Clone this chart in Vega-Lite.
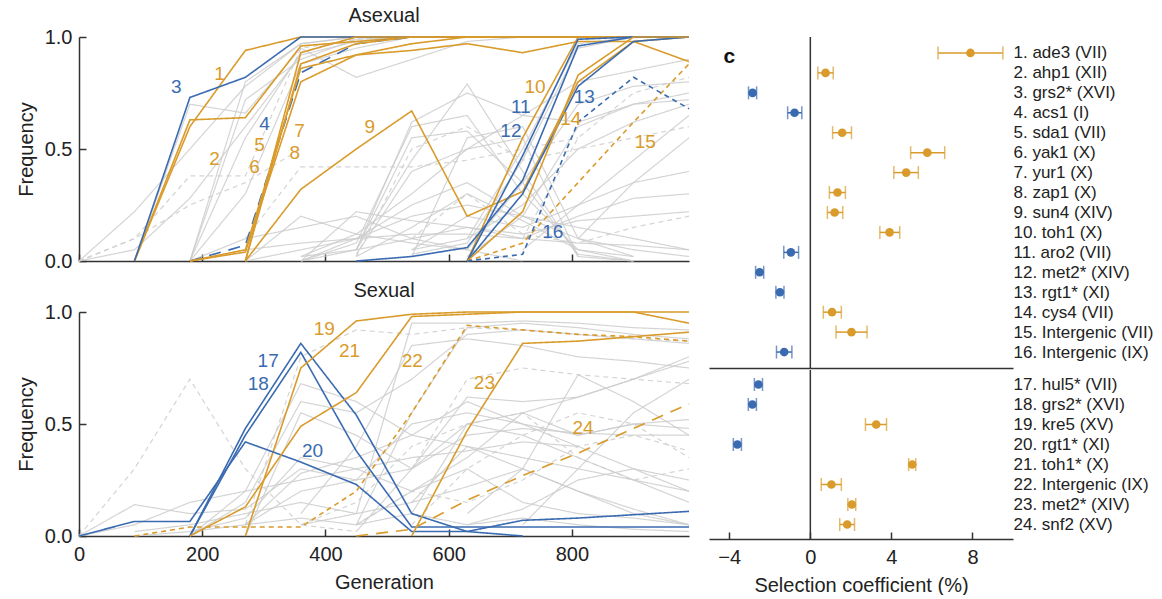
{
"$schema": "https://vega.github.io/schema/vega-lite/v6.json",
"padding": {"left": 16, "top": 6, "right": 0, "bottom": 0},
"config": {
  "font": "Liberation Sans",
  "view": {"stroke": null},
  "axis": {"domainColor": "#333", "domainWidth": 1.5, "tickColor": "#333", "tickWidth": 1.5, "tickSize": -7, "labelColor": "#222", "labelFontSize": 20, "titleFontSize": 20, "titleFontWeight": "normal", "titleColor": "#222", "grid": false, "labelFlush": false},
  "axisX": {"labelPadding": 15, "titlePadding": 8},
  "axisY": {"labelPadding": 14, "titlePadding": 8},
  "title": {"fontSize": 20, "fontWeight": "normal", "color": "#222", "offset": 1}
},
"datasets": {
  "lineages": [
    {"id":"a1","panel":"a","effect":"beneficial","site":"coding"},
    {"id":"a2","panel":"a","effect":"beneficial","site":"coding"},
    {"id":"a3","panel":"a","effect":"deleterious","site":"coding"},
    {"id":"a4","panel":"a","effect":"deleterious","site":"other"},
    {"id":"a5","panel":"a","effect":"beneficial","site":"coding"},
    {"id":"a6","panel":"a","effect":"beneficial","site":"coding"},
    {"id":"a7","panel":"a","effect":"beneficial","site":"coding"},
    {"id":"a8","panel":"a","effect":"beneficial","site":"coding"},
    {"id":"a9","panel":"a","effect":"beneficial","site":"coding"},
    {"id":"a10","panel":"a","effect":"beneficial","site":"coding"},
    {"id":"a11","panel":"a","effect":"deleterious","site":"coding"},
    {"id":"a12","panel":"a","effect":"deleterious","site":"coding"},
    {"id":"a13","panel":"a","effect":"deleterious","site":"coding"},
    {"id":"a14","panel":"a","effect":"beneficial","site":"coding"},
    {"id":"a15","panel":"a","effect":"beneficial","site":"intergenic"},
    {"id":"a16","panel":"a","effect":"deleterious","site":"intergenic"},
    {"id":"ag1","panel":"a","effect":"none","site":"coding"},
    {"id":"ag2","panel":"a","effect":"none","site":"intergenic"},
    {"id":"ag3","panel":"a","effect":"none","site":"coding"},
    {"id":"ag4","panel":"a","effect":"none","site":"coding"},
    {"id":"ag5","panel":"a","effect":"none","site":"coding"},
    {"id":"ag6","panel":"a","effect":"none","site":"coding"},
    {"id":"ag7","panel":"a","effect":"none","site":"coding"},
    {"id":"ag8","panel":"a","effect":"none","site":"coding"},
    {"id":"ag9","panel":"a","effect":"none","site":"coding"},
    {"id":"ag10","panel":"a","effect":"none","site":"coding"},
    {"id":"ag11","panel":"a","effect":"none","site":"coding"},
    {"id":"ag12","panel":"a","effect":"none","site":"coding"},
    {"id":"ag13","panel":"a","effect":"none","site":"coding"},
    {"id":"ag14","panel":"a","effect":"none","site":"coding"},
    {"id":"ag15","panel":"a","effect":"none","site":"intergenic"},
    {"id":"ag16","panel":"a","effect":"none","site":"coding"},
    {"id":"ag17","panel":"a","effect":"none","site":"coding"},
    {"id":"ag18","panel":"a","effect":"none","site":"coding"},
    {"id":"ag19","panel":"a","effect":"none","site":"coding"},
    {"id":"ag20","panel":"a","effect":"none","site":"coding"},
    {"id":"ag21","panel":"a","effect":"none","site":"intergenic"},
    {"id":"ag22","panel":"a","effect":"none","site":"intergenic"},
    {"id":"ag23","panel":"a","effect":"none","site":"coding"},
    {"id":"ag24","panel":"a","effect":"none","site":"coding"},
    {"id":"ag25","panel":"a","effect":"none","site":"intergenic"},
    {"id":"ag26","panel":"a","effect":"none","site":"coding"},
    {"id":"ag27","panel":"a","effect":"none","site":"coding"},
    {"id":"ag28","panel":"a","effect":"none","site":"coding"},
    {"id":"ag29","panel":"a","effect":"none","site":"coding"},
    {"id":"ag30","panel":"a","effect":"none","site":"coding"},
    {"id":"ag31","panel":"a","effect":"none","site":"coding"},
    {"id":"ag32","panel":"a","effect":"none","site":"coding"},
    {"id":"ag33","panel":"a","effect":"none","site":"coding"},
    {"id":"ag34","panel":"a","effect":"none","site":"intergenic"},
    {"id":"ag35","panel":"a","effect":"none","site":"coding"},
    {"id":"ag36","panel":"a","effect":"none","site":"coding"},
    {"id":"b17","panel":"b","effect":"deleterious","site":"coding"},
    {"id":"b18","panel":"b","effect":"deleterious","site":"coding"},
    {"id":"b19","panel":"b","effect":"beneficial","site":"coding"},
    {"id":"b20","panel":"b","effect":"deleterious","site":"coding"},
    {"id":"b21","panel":"b","effect":"beneficial","site":"coding"},
    {"id":"b22","panel":"b","effect":"beneficial","site":"intergenic"},
    {"id":"b23","panel":"b","effect":"beneficial","site":"coding"},
    {"id":"b24","panel":"b","effect":"beneficial","site":"other"},
    {"id":"bg1","panel":"b","effect":"none","site":"intergenic"},
    {"id":"bg2","panel":"b","effect":"none","site":"coding"},
    {"id":"bg3","panel":"b","effect":"none","site":"coding"},
    {"id":"bg4","panel":"b","effect":"none","site":"coding"},
    {"id":"bg5","panel":"b","effect":"none","site":"coding"},
    {"id":"bg6","panel":"b","effect":"none","site":"coding"},
    {"id":"bg7","panel":"b","effect":"none","site":"intergenic"},
    {"id":"bg8","panel":"b","effect":"none","site":"coding"},
    {"id":"bg9","panel":"b","effect":"none","site":"coding"},
    {"id":"bg10","panel":"b","effect":"none","site":"coding"},
    {"id":"bg11","panel":"b","effect":"none","site":"coding"},
    {"id":"bg12","panel":"b","effect":"none","site":"coding"},
    {"id":"bg13","panel":"b","effect":"none","site":"coding"},
    {"id":"bg14","panel":"b","effect":"none","site":"intergenic"},
    {"id":"bg15","panel":"b","effect":"none","site":"coding"},
    {"id":"bg16","panel":"b","effect":"none","site":"coding"},
    {"id":"bg17","panel":"b","effect":"none","site":"intergenic"},
    {"id":"bg18","panel":"b","effect":"none","site":"coding"},
    {"id":"bg19","panel":"b","effect":"none","site":"coding"},
    {"id":"bg20","panel":"b","effect":"none","site":"intergenic"},
    {"id":"bg21","panel":"b","effect":"none","site":"coding"},
    {"id":"bg22","panel":"b","effect":"none","site":"coding"},
    {"id":"bg23","panel":"b","effect":"none","site":"coding"},
    {"id":"bg24","panel":"b","effect":"none","site":"intergenic"},
    {"id":"bg25","panel":"b","effect":"none","site":"coding"},
    {"id":"bg26","panel":"b","effect":"none","site":"coding"}
  ],
  "traj": [
    {"id":"a1","gen":90,"freq":0},{"id":"a1","gen":180,"freq":0.6},{"id":"a1","gen":270,"freq":0.94},{"id":"a1","gen":360,"freq":1},{"id":"a1","gen":450,"freq":1},{"id":"a1","gen":540,"freq":1},{"id":"a1","gen":630,"freq":1},{"id":"a1","gen":720,"freq":1},{"id":"a1","gen":810,"freq":1},{"id":"a1","gen":900,"freq":1},{"id":"a1","gen":990,"freq":1},
    {"id":"a2","gen":90,"freq":0},{"id":"a2","gen":180,"freq":0.63},{"id":"a2","gen":270,"freq":0.64},{"id":"a2","gen":360,"freq":0.96},{"id":"a2","gen":450,"freq":0.98},{"id":"a2","gen":540,"freq":1},{"id":"a2","gen":630,"freq":1},{"id":"a2","gen":720,"freq":1},{"id":"a2","gen":810,"freq":1},{"id":"a2","gen":900,"freq":1},{"id":"a2","gen":990,"freq":1},
    {"id":"a3","gen":90,"freq":0},{"id":"a3","gen":180,"freq":0.73},{"id":"a3","gen":270,"freq":0.82},{"id":"a3","gen":360,"freq":1},{"id":"a3","gen":450,"freq":1},{"id":"a3","gen":540,"freq":1},{"id":"a3","gen":630,"freq":1},{"id":"a3","gen":720,"freq":1},{"id":"a3","gen":810,"freq":1},{"id":"a3","gen":900,"freq":1},{"id":"a3","gen":990,"freq":1},
    {"id":"a4","gen":180,"freq":0},{"id":"a4","gen":270,"freq":0.07},{"id":"a4","gen":360,"freq":0.84},{"id":"a4","gen":450,"freq":0.97},{"id":"a4","gen":540,"freq":1},{"id":"a4","gen":630,"freq":1},{"id":"a4","gen":720,"freq":1},{"id":"a4","gen":810,"freq":1},{"id":"a4","gen":900,"freq":1},{"id":"a4","gen":990,"freq":1},
    {"id":"a5","gen":270,"freq":0},{"id":"a5","gen":360,"freq":0.93},{"id":"a5","gen":450,"freq":1},{"id":"a5","gen":540,"freq":1},{"id":"a5","gen":630,"freq":1},{"id":"a5","gen":720,"freq":1},{"id":"a5","gen":810,"freq":1},{"id":"a5","gen":900,"freq":1},{"id":"a5","gen":990,"freq":1},
    {"id":"a6","gen":270,"freq":0},{"id":"a6","gen":360,"freq":0.88},{"id":"a6","gen":450,"freq":0.97},{"id":"a6","gen":540,"freq":1},{"id":"a6","gen":630,"freq":1},{"id":"a6","gen":720,"freq":1},{"id":"a6","gen":810,"freq":1},{"id":"a6","gen":900,"freq":1},{"id":"a6","gen":990,"freq":1},
    {"id":"a7","gen":180,"freq":0},{"id":"a7","gen":270,"freq":0.05},{"id":"a7","gen":360,"freq":0.86},{"id":"a7","gen":450,"freq":0.92},{"id":"a7","gen":540,"freq":0.97},{"id":"a7","gen":630,"freq":1},{"id":"a7","gen":720,"freq":1},{"id":"a7","gen":810,"freq":1},{"id":"a7","gen":900,"freq":1},{"id":"a7","gen":990,"freq":1},
    {"id":"a8","gen":180,"freq":0},{"id":"a8","gen":270,"freq":0.04},{"id":"a8","gen":360,"freq":0.8},{"id":"a8","gen":450,"freq":0.92},{"id":"a8","gen":540,"freq":0.94},{"id":"a8","gen":630,"freq":0.97},{"id":"a8","gen":720,"freq":0.93},{"id":"a8","gen":810,"freq":0.98},{"id":"a8","gen":900,"freq":0.98},{"id":"a8","gen":990,"freq":0.89},
    {"id":"a9","gen":270,"freq":0},{"id":"a9","gen":360,"freq":0.32},{"id":"a9","gen":450,"freq":0.5},{"id":"a9","gen":540,"freq":0.67},{"id":"a9","gen":630,"freq":0.2},{"id":"a9","gen":720,"freq":0.31},{"id":"a9","gen":810,"freq":0.8},{"id":"a9","gen":900,"freq":0.98},{"id":"a9","gen":990,"freq":1},
    {"id":"a10","gen":630,"freq":0},{"id":"a10","gen":720,"freq":0.55},{"id":"a10","gen":810,"freq":1},{"id":"a10","gen":900,"freq":1},{"id":"a10","gen":990,"freq":1},
    {"id":"a11","gen":630,"freq":0},{"id":"a11","gen":720,"freq":0.47},{"id":"a11","gen":810,"freq":0.99},{"id":"a11","gen":900,"freq":1},{"id":"a11","gen":990,"freq":1},
    {"id":"a12","gen":450,"freq":0},{"id":"a12","gen":540,"freq":0.02},{"id":"a12","gen":630,"freq":0.06},{"id":"a12","gen":720,"freq":0.36},{"id":"a12","gen":810,"freq":0.96},{"id":"a12","gen":900,"freq":1},{"id":"a12","gen":990,"freq":1},
    {"id":"a13","gen":630,"freq":0},{"id":"a13","gen":720,"freq":0.3},{"id":"a13","gen":810,"freq":0.78},{"id":"a13","gen":900,"freq":0.98},{"id":"a13","gen":990,"freq":1},
    {"id":"a14","gen":630,"freq":0},{"id":"a14","gen":720,"freq":0.22},{"id":"a14","gen":810,"freq":0.83},{"id":"a14","gen":900,"freq":1},{"id":"a14","gen":990,"freq":1},
    {"id":"a15","gen":630,"freq":0},{"id":"a15","gen":720,"freq":0.08},{"id":"a15","gen":810,"freq":0.35},{"id":"a15","gen":900,"freq":0.62},{"id":"a15","gen":990,"freq":0.88},
    {"id":"a16","gen":630,"freq":0},{"id":"a16","gen":720,"freq":0.03},{"id":"a16","gen":810,"freq":0.62},{"id":"a16","gen":900,"freq":0.82},{"id":"a16","gen":990,"freq":0.68},
    {"id":"ag1","gen":0,"freq":0},{"id":"ag1","gen":90,"freq":0.22},{"id":"ag1","gen":180,"freq":0.5},{"id":"ag1","gen":270,"freq":0.78},{"id":"ag1","gen":360,"freq":0.97},{"id":"ag1","gen":450,"freq":1},{"id":"ag1","gen":540,"freq":1},{"id":"ag1","gen":630,"freq":1},{"id":"ag1","gen":720,"freq":1},{"id":"ag1","gen":810,"freq":1},{"id":"ag1","gen":900,"freq":1},{"id":"ag1","gen":990,"freq":1},
    {"id":"ag2","gen":0,"freq":0},{"id":"ag2","gen":90,"freq":0.1},{"id":"ag2","gen":180,"freq":0.38},{"id":"ag2","gen":270,"freq":0.38},{"id":"ag2","gen":360,"freq":0.95},{"id":"ag2","gen":450,"freq":0.99},{"id":"ag2","gen":540,"freq":1},{"id":"ag2","gen":630,"freq":1},{"id":"ag2","gen":720,"freq":1},{"id":"ag2","gen":810,"freq":1},{"id":"ag2","gen":900,"freq":1},{"id":"ag2","gen":990,"freq":1},
    {"id":"ag3","gen":0,"freq":0},{"id":"ag3","gen":90,"freq":0.05},{"id":"ag3","gen":180,"freq":0.28},{"id":"ag3","gen":270,"freq":0.6},{"id":"ag3","gen":360,"freq":0.92},{"id":"ag3","gen":450,"freq":0.98},{"id":"ag3","gen":540,"freq":1},{"id":"ag3","gen":630,"freq":1},{"id":"ag3","gen":720,"freq":1},{"id":"ag3","gen":810,"freq":1},{"id":"ag3","gen":900,"freq":1},{"id":"ag3","gen":990,"freq":1},
    {"id":"ag4","gen":90,"freq":0},{"id":"ag4","gen":180,"freq":0.7},{"id":"ag4","gen":270,"freq":0.66},{"id":"ag4","gen":360,"freq":0.95},{"id":"ag4","gen":450,"freq":0.82},{"id":"ag4","gen":540,"freq":0.9},{"id":"ag4","gen":630,"freq":0.98},{"id":"ag4","gen":720,"freq":1},{"id":"ag4","gen":810,"freq":1},{"id":"ag4","gen":900,"freq":1},{"id":"ag4","gen":990,"freq":1},
    {"id":"ag5","gen":180,"freq":0},{"id":"ag5","gen":270,"freq":0.8},{"id":"ag5","gen":360,"freq":0.97},{"id":"ag5","gen":450,"freq":1},{"id":"ag5","gen":540,"freq":1},{"id":"ag5","gen":630,"freq":1},{"id":"ag5","gen":720,"freq":1},{"id":"ag5","gen":810,"freq":1},{"id":"ag5","gen":900,"freq":1},{"id":"ag5","gen":990,"freq":1},
    {"id":"ag6","gen":180,"freq":0},{"id":"ag6","gen":270,"freq":0.72},{"id":"ag6","gen":360,"freq":0.9},{"id":"ag6","gen":450,"freq":0.99},{"id":"ag6","gen":540,"freq":1},{"id":"ag6","gen":630,"freq":1},{"id":"ag6","gen":720,"freq":1},{"id":"ag6","gen":810,"freq":1},{"id":"ag6","gen":900,"freq":1},{"id":"ag6","gen":990,"freq":1},
    {"id":"ag7","gen":180,"freq":0},{"id":"ag7","gen":270,"freq":0.55},{"id":"ag7","gen":360,"freq":0.93},{"id":"ag7","gen":450,"freq":1},{"id":"ag7","gen":540,"freq":1},{"id":"ag7","gen":630,"freq":1},{"id":"ag7","gen":720,"freq":1},{"id":"ag7","gen":810,"freq":1},{"id":"ag7","gen":900,"freq":1},{"id":"ag7","gen":990,"freq":1},
    {"id":"ag8","gen":180,"freq":0},{"id":"ag8","gen":270,"freq":0.3},{"id":"ag8","gen":360,"freq":0.88},{"id":"ag8","gen":450,"freq":0.95},{"id":"ag8","gen":540,"freq":1},{"id":"ag8","gen":630,"freq":1},{"id":"ag8","gen":720,"freq":1},{"id":"ag8","gen":810,"freq":1},{"id":"ag8","gen":900,"freq":1},{"id":"ag8","gen":990,"freq":1},
    {"id":"ag9","gen":270,"freq":0},{"id":"ag9","gen":360,"freq":0.05},{"id":"ag9","gen":450,"freq":0.1},{"id":"ag9","gen":540,"freq":0.2},{"id":"ag9","gen":630,"freq":0.25},{"id":"ag9","gen":720,"freq":0.2},{"id":"ag9","gen":810,"freq":0.15},{"id":"ag9","gen":900,"freq":0.1},{"id":"ag9","gen":990,"freq":0.05},
    {"id":"ag10","gen":360,"freq":0},{"id":"ag10","gen":450,"freq":0.22},{"id":"ag10","gen":540,"freq":0.18},{"id":"ag10","gen":630,"freq":0.15},{"id":"ag10","gen":720,"freq":0.1},{"id":"ag10","gen":810,"freq":0.2},{"id":"ag10","gen":900,"freq":0.28},{"id":"ag10","gen":990,"freq":0.3},
    {"id":"ag11","gen":270,"freq":0},{"id":"ag11","gen":360,"freq":0.2},{"id":"ag11","gen":450,"freq":0.12},{"id":"ag11","gen":540,"freq":0.08},{"id":"ag11","gen":630,"freq":0.05},{"id":"ag11","gen":720,"freq":0},
    {"id":"ag12","gen":360,"freq":0},{"id":"ag12","gen":450,"freq":0.05},{"id":"ag12","gen":540,"freq":0.45},{"id":"ag12","gen":630,"freq":0.79},{"id":"ag12","gen":720,"freq":0.4},{"id":"ag12","gen":810,"freq":0.02},{"id":"ag12","gen":900,"freq":0},
    {"id":"ag13","gen":360,"freq":0},{"id":"ag13","gen":450,"freq":0.08},{"id":"ag13","gen":540,"freq":0.6},{"id":"ag13","gen":630,"freq":0.65},{"id":"ag13","gen":720,"freq":0.3},{"id":"ag13","gen":810,"freq":0.05},{"id":"ag13","gen":900,"freq":0},
    {"id":"ag14","gen":450,"freq":0.05},{"id":"ag14","gen":540,"freq":0.55},{"id":"ag14","gen":630,"freq":0.58},{"id":"ag14","gen":720,"freq":0.35},{"id":"ag14","gen":810,"freq":0.03},{"id":"ag14","gen":900,"freq":0},
    {"id":"ag15","gen":450,"freq":0.02},{"id":"ag15","gen":540,"freq":0.5},{"id":"ag15","gen":630,"freq":0.6},{"id":"ag15","gen":720,"freq":0.45},{"id":"ag15","gen":810,"freq":0.5},{"id":"ag15","gen":900,"freq":0.55},{"id":"ag15","gen":990,"freq":0.6},
    {"id":"ag16","gen":450,"freq":0.03},{"id":"ag16","gen":540,"freq":0.4},{"id":"ag16","gen":630,"freq":0.5},{"id":"ag16","gen":720,"freq":0.65},{"id":"ag16","gen":810,"freq":0.8},{"id":"ag16","gen":900,"freq":0.85},{"id":"ag16","gen":990,"freq":0.9},
    {"id":"ag17","gen":540,"freq":0.05},{"id":"ag17","gen":630,"freq":0.1},{"id":"ag17","gen":720,"freq":0.5},{"id":"ag17","gen":810,"freq":0.97},{"id":"ag17","gen":900,"freq":1},{"id":"ag17","gen":990,"freq":1},
    {"id":"ag18","gen":540,"freq":0.03},{"id":"ag18","gen":630,"freq":0.08},{"id":"ag18","gen":720,"freq":0.45},{"id":"ag18","gen":810,"freq":0.95},{"id":"ag18","gen":900,"freq":1},{"id":"ag18","gen":990,"freq":1},
    {"id":"ag19","gen":630,"freq":0.02},{"id":"ag19","gen":720,"freq":0.2},{"id":"ag19","gen":810,"freq":0.6},{"id":"ag19","gen":900,"freq":0.7},{"id":"ag19","gen":990,"freq":0.75},
    {"id":"ag20","gen":720,"freq":0.05},{"id":"ag20","gen":810,"freq":0.25},{"id":"ag20","gen":900,"freq":0.45},{"id":"ag20","gen":990,"freq":0.65},
    {"id":"ag21","gen":270,"freq":0.1},{"id":"ag21","gen":360,"freq":0.42},{"id":"ag21","gen":450,"freq":0.42},{"id":"ag21","gen":540,"freq":0.42},{"id":"ag21","gen":630,"freq":0.45},{"id":"ag21","gen":720,"freq":0.5},{"id":"ag21","gen":810,"freq":0.55},
    {"id":"ag22","gen":0,"freq":0},{"id":"ag22","gen":90,"freq":0.1},{"id":"ag22","gen":180,"freq":0.25},{"id":"ag22","gen":270,"freq":0.35},{"id":"ag22","gen":360,"freq":0.5},
    {"id":"ag23","gen":630,"freq":0.1},{"id":"ag23","gen":720,"freq":0.25},{"id":"ag23","gen":810,"freq":0.5},{"id":"ag23","gen":900,"freq":0.62},{"id":"ag23","gen":990,"freq":0.7},
    {"id":"ag24","gen":360,"freq":0},{"id":"ag24","gen":450,"freq":0.1},{"id":"ag24","gen":540,"freq":0.25},{"id":"ag24","gen":630,"freq":0.35},{"id":"ag24","gen":720,"freq":0.2},{"id":"ag24","gen":810,"freq":0.1},{"id":"ag24","gen":900,"freq":0.05},{"id":"ag24","gen":990,"freq":0.02},
    {"id":"ag25","gen":720,"freq":0.1},{"id":"ag25","gen":810,"freq":0.55},{"id":"ag25","gen":900,"freq":0.75},{"id":"ag25","gen":990,"freq":0.82},
    {"id":"ag26","gen":810,"freq":0.1},{"id":"ag26","gen":900,"freq":0.35},{"id":"ag26","gen":990,"freq":0.55},
    {"id":"ag27","gen":270,"freq":0.05},{"id":"ag27","gen":360,"freq":0.08},{"id":"ag27","gen":450,"freq":0.1},{"id":"ag27","gen":540,"freq":0.12},{"id":"ag27","gen":630,"freq":0.12},{"id":"ag27","gen":720,"freq":0.1},{"id":"ag27","gen":810,"freq":0.08},{"id":"ag27","gen":900,"freq":0.07},{"id":"ag27","gen":990,"freq":0.05},
    {"id":"ag28","gen":540,"freq":0.02},{"id":"ag28","gen":630,"freq":0.55},{"id":"ag28","gen":720,"freq":0.6},{"id":"ag28","gen":810,"freq":0.1},{"id":"ag28","gen":900,"freq":0.02},
    {"id":"ag29","gen":450,"freq":0.05},{"id":"ag29","gen":540,"freq":0.62},{"id":"ag29","gen":630,"freq":0.75},{"id":"ag29","gen":720,"freq":0.65},{"id":"ag29","gen":810,"freq":0.62},{"id":"ag29","gen":900,"freq":0.7},{"id":"ag29","gen":990,"freq":0.72},
    {"id":"ag30","gen":360,"freq":0.02},{"id":"ag30","gen":450,"freq":0.05},{"id":"ag30","gen":540,"freq":0.1},{"id":"ag30","gen":630,"freq":0.15},{"id":"ag30","gen":720,"freq":0.12},{"id":"ag30","gen":810,"freq":0.18},{"id":"ag30","gen":900,"freq":0.2},{"id":"ag30","gen":990,"freq":0.22},
    {"id":"ag31","gen":450,"freq":0.02},{"id":"ag31","gen":540,"freq":0.15},{"id":"ag31","gen":630,"freq":0.3},{"id":"ag31","gen":720,"freq":0.18},{"id":"ag31","gen":810,"freq":0.05},{"id":"ag31","gen":900,"freq":0.02},
    {"id":"ag32","gen":540,"freq":0.05},{"id":"ag32","gen":630,"freq":0.2},{"id":"ag32","gen":720,"freq":0.15},{"id":"ag32","gen":810,"freq":0.25},{"id":"ag32","gen":900,"freq":0.35},{"id":"ag32","gen":990,"freq":0.4},
    {"id":"ag33","gen":360,"freq":0.02},{"id":"ag33","gen":450,"freq":0.12},{"id":"ag33","gen":540,"freq":0.3},{"id":"ag33","gen":630,"freq":0.5},{"id":"ag33","gen":720,"freq":0.55},{"id":"ag33","gen":810,"freq":0.02},
    {"id":"ag34","gen":540,"freq":0.1},{"id":"ag34","gen":630,"freq":0.3},{"id":"ag34","gen":720,"freq":0.12},{"id":"ag34","gen":810,"freq":0.08},{"id":"ag34","gen":900,"freq":0.15},{"id":"ag34","gen":990,"freq":0.2},
    {"id":"ag35","gen":630,"freq":0.05},{"id":"ag35","gen":720,"freq":0.35},{"id":"ag35","gen":810,"freq":0.7},{"id":"ag35","gen":900,"freq":0.78},{"id":"ag35","gen":990,"freq":0.8},
    {"id":"ag36","gen":180,"freq":0},{"id":"ag36","gen":270,"freq":0.1},{"id":"ag36","gen":360,"freq":0.15},{"id":"ag36","gen":450,"freq":0.2},{"id":"ag36","gen":540,"freq":0.1},{"id":"ag36","gen":630,"freq":0.05},
    {"id":"b17","gen":180,"freq":0},{"id":"b17","gen":270,"freq":0.48},{"id":"b17","gen":360,"freq":0.86},{"id":"b17","gen":450,"freq":0.54},{"id":"b17","gen":540,"freq":0.1},{"id":"b17","gen":630,"freq":0.02},{"id":"b17","gen":720,"freq":0},
    {"id":"b18","gen":180,"freq":0},{"id":"b18","gen":270,"freq":0.45},{"id":"b18","gen":360,"freq":0.82},{"id":"b18","gen":450,"freq":0.38},{"id":"b18","gen":540,"freq":0.04},{"id":"b18","gen":630,"freq":0.04},{"id":"b18","gen":720,"freq":0.04},{"id":"b18","gen":810,"freq":0.04},{"id":"b18","gen":900,"freq":0.04},{"id":"b18","gen":990,"freq":0.04},
    {"id":"b19","gen":270,"freq":0},{"id":"b19","gen":360,"freq":0.75},{"id":"b19","gen":450,"freq":0.96},{"id":"b19","gen":540,"freq":0.99},{"id":"b19","gen":630,"freq":1},{"id":"b19","gen":720,"freq":1},{"id":"b19","gen":810,"freq":1},{"id":"b19","gen":900,"freq":1},{"id":"b19","gen":990,"freq":1},
    {"id":"b20","gen":0,"freq":0},{"id":"b20","gen":90,"freq":0.065},{"id":"b20","gen":180,"freq":0.065},{"id":"b20","gen":270,"freq":0.42},{"id":"b20","gen":360,"freq":0.33},{"id":"b20","gen":450,"freq":0.23},{"id":"b20","gen":540,"freq":0.02},{"id":"b20","gen":630,"freq":0.02},{"id":"b20","gen":720,"freq":0.07},{"id":"b20","gen":810,"freq":0.08},{"id":"b20","gen":900,"freq":0.095},{"id":"b20","gen":990,"freq":0.11},
    {"id":"b21","gen":180,"freq":0},{"id":"b21","gen":270,"freq":0.13},{"id":"b21","gen":360,"freq":0.49},{"id":"b21","gen":450,"freq":0.64},{"id":"b21","gen":540,"freq":0.98},{"id":"b21","gen":630,"freq":0.99},{"id":"b21","gen":720,"freq":1},{"id":"b21","gen":810,"freq":1},{"id":"b21","gen":900,"freq":1},{"id":"b21","gen":990,"freq":0.95},
    {"id":"b22","gen":90,"freq":0},{"id":"b22","gen":180,"freq":0.04},{"id":"b22","gen":270,"freq":0.04},{"id":"b22","gen":360,"freq":0.04},{"id":"b22","gen":450,"freq":0.2},{"id":"b22","gen":540,"freq":0.55},{"id":"b22","gen":630,"freq":0.94},{"id":"b22","gen":720,"freq":0.92},{"id":"b22","gen":810,"freq":0.9},{"id":"b22","gen":900,"freq":0.89},{"id":"b22","gen":990,"freq":0.87},
    {"id":"b23","gen":540,"freq":0},{"id":"b23","gen":630,"freq":0.47},{"id":"b23","gen":720,"freq":0.86},{"id":"b23","gen":810,"freq":0.87},{"id":"b23","gen":900,"freq":0.89},{"id":"b23","gen":990,"freq":0.91},
    {"id":"b24","gen":450,"freq":0},{"id":"b24","gen":540,"freq":0.03},{"id":"b24","gen":630,"freq":0.16},{"id":"b24","gen":720,"freq":0.27},{"id":"b24","gen":810,"freq":0.37},{"id":"b24","gen":900,"freq":0.48},{"id":"b24","gen":990,"freq":0.59},
    {"id":"bg1","gen":0,"freq":0},{"id":"bg1","gen":90,"freq":0.3},{"id":"bg1","gen":180,"freq":0.7},{"id":"bg1","gen":270,"freq":0.3},{"id":"bg1","gen":360,"freq":0.05},{"id":"bg1","gen":450,"freq":0.02},
    {"id":"bg2","gen":0,"freq":0},{"id":"bg2","gen":90,"freq":0.14},{"id":"bg2","gen":180,"freq":0.1},{"id":"bg2","gen":270,"freq":0.12},{"id":"bg2","gen":360,"freq":0.3},{"id":"bg2","gen":450,"freq":0.25},{"id":"bg2","gen":540,"freq":0.5},{"id":"bg2","gen":630,"freq":0.55},{"id":"bg2","gen":720,"freq":0.5},{"id":"bg2","gen":810,"freq":0.45},{"id":"bg2","gen":900,"freq":0.5},{"id":"bg2","gen":990,"freq":0.52},
    {"id":"bg3","gen":180,"freq":0},{"id":"bg3","gen":270,"freq":0.2},{"id":"bg3","gen":360,"freq":0.68},{"id":"bg3","gen":450,"freq":0.6},{"id":"bg3","gen":540,"freq":0.45},{"id":"bg3","gen":630,"freq":0.4},{"id":"bg3","gen":720,"freq":0.35},{"id":"bg3","gen":810,"freq":0.3},{"id":"bg3","gen":900,"freq":0.25},{"id":"bg3","gen":990,"freq":0.2},
    {"id":"bg4","gen":180,"freq":0},{"id":"bg4","gen":270,"freq":0.15},{"id":"bg4","gen":360,"freq":0.6},{"id":"bg4","gen":450,"freq":0.55},{"id":"bg4","gen":540,"freq":0.7},{"id":"bg4","gen":630,"freq":0.9},{"id":"bg4","gen":720,"freq":0.92},{"id":"bg4","gen":810,"freq":0.9},{"id":"bg4","gen":900,"freq":0.88},{"id":"bg4","gen":990,"freq":0.86},
    {"id":"bg5","gen":270,"freq":0},{"id":"bg5","gen":360,"freq":0.55},{"id":"bg5","gen":450,"freq":0.45},{"id":"bg5","gen":540,"freq":0.3},{"id":"bg5","gen":630,"freq":0.5},{"id":"bg5","gen":720,"freq":0.55},{"id":"bg5","gen":810,"freq":0.45},{"id":"bg5","gen":900,"freq":0.5},{"id":"bg5","gen":990,"freq":0.48},
    {"id":"bg6","gen":270,"freq":0.05},{"id":"bg6","gen":360,"freq":0.28},{"id":"bg6","gen":450,"freq":0.35},{"id":"bg6","gen":540,"freq":0.45},{"id":"bg6","gen":630,"freq":0.6},{"id":"bg6","gen":720,"freq":0.5},{"id":"bg6","gen":810,"freq":0.4},{"id":"bg6","gen":900,"freq":0.3},{"id":"bg6","gen":990,"freq":0.25},
    {"id":"bg7","gen":270,"freq":0.05},{"id":"bg7","gen":360,"freq":0.8},{"id":"bg7","gen":450,"freq":0.92},{"id":"bg7","gen":540,"freq":0.9},{"id":"bg7","gen":630,"freq":0.93},{"id":"bg7","gen":720,"freq":0.92},{"id":"bg7","gen":810,"freq":0.9},{"id":"bg7","gen":900,"freq":0.88},{"id":"bg7","gen":990,"freq":0.87},
    {"id":"bg8","gen":360,"freq":0.05},{"id":"bg8","gen":450,"freq":0.1},{"id":"bg8","gen":540,"freq":0.95},{"id":"bg8","gen":630,"freq":0.95},{"id":"bg8","gen":720,"freq":0.96},{"id":"bg8","gen":810,"freq":0.95},{"id":"bg8","gen":900,"freq":0.93},{"id":"bg8","gen":990,"freq":0.92},
    {"id":"bg9","gen":450,"freq":0.05},{"id":"bg9","gen":540,"freq":0.55},{"id":"bg9","gen":630,"freq":0.93},{"id":"bg9","gen":720,"freq":0.95},{"id":"bg9","gen":810,"freq":0.93},{"id":"bg9","gen":900,"freq":0.9},{"id":"bg9","gen":990,"freq":0.88},
    {"id":"bg10","gen":450,"freq":0.02},{"id":"bg10","gen":540,"freq":0.3},{"id":"bg10","gen":630,"freq":0.62},{"id":"bg10","gen":720,"freq":0.6},{"id":"bg10","gen":810,"freq":0.62},{"id":"bg10","gen":900,"freq":0.7},{"id":"bg10","gen":990,"freq":0.8},
    {"id":"bg11","gen":450,"freq":0.05},{"id":"bg11","gen":540,"freq":0.2},{"id":"bg11","gen":630,"freq":0.35},{"id":"bg11","gen":720,"freq":0.55},{"id":"bg11","gen":810,"freq":0.62},{"id":"bg11","gen":900,"freq":0.7},{"id":"bg11","gen":990,"freq":0.78},
    {"id":"bg12","gen":540,"freq":0.1},{"id":"bg12","gen":630,"freq":0.5},{"id":"bg12","gen":720,"freq":0.45},{"id":"bg12","gen":810,"freq":0.35},{"id":"bg12","gen":900,"freq":0.25},{"id":"bg12","gen":990,"freq":0.15},
    {"id":"bg13","gen":540,"freq":0.15},{"id":"bg13","gen":630,"freq":0.4},{"id":"bg13","gen":720,"freq":0.3},{"id":"bg13","gen":810,"freq":0.2},{"id":"bg13","gen":900,"freq":0.12},{"id":"bg13","gen":990,"freq":0.05},
    {"id":"bg14","gen":540,"freq":0.05},{"id":"bg14","gen":630,"freq":0.3},{"id":"bg14","gen":720,"freq":0.45},{"id":"bg14","gen":810,"freq":0.55},{"id":"bg14","gen":900,"freq":0.5},{"id":"bg14","gen":990,"freq":0.35},
    {"id":"bg15","gen":630,"freq":0.1},{"id":"bg15","gen":720,"freq":0.3},{"id":"bg15","gen":810,"freq":0.72},{"id":"bg15","gen":900,"freq":0.6},{"id":"bg15","gen":990,"freq":0.45},
    {"id":"bg16","gen":270,"freq":0.05},{"id":"bg16","gen":360,"freq":0.2},{"id":"bg16","gen":450,"freq":0.25},{"id":"bg16","gen":540,"freq":0.3},{"id":"bg16","gen":630,"freq":0.45},{"id":"bg16","gen":720,"freq":0.48},{"id":"bg16","gen":810,"freq":0.46},{"id":"bg16","gen":900,"freq":0.45},{"id":"bg16","gen":990,"freq":0.45},
    {"id":"bg17","gen":360,"freq":0.05},{"id":"bg17","gen":450,"freq":0.15},{"id":"bg17","gen":540,"freq":0.4},{"id":"bg17","gen":630,"freq":0.5},{"id":"bg17","gen":720,"freq":0.55},{"id":"bg17","gen":810,"freq":0.35},{"id":"bg17","gen":900,"freq":0.25},{"id":"bg17","gen":990,"freq":0.3},
    {"id":"bg18","gen":180,"freq":0.02},{"id":"bg18","gen":270,"freq":0.08},{"id":"bg18","gen":360,"freq":0.35},{"id":"bg18","gen":450,"freq":0.3},{"id":"bg18","gen":540,"freq":0.2},{"id":"bg18","gen":630,"freq":0.3},{"id":"bg18","gen":720,"freq":0.15},{"id":"bg18","gen":810,"freq":0.1},{"id":"bg18","gen":900,"freq":0.08},{"id":"bg18","gen":990,"freq":0.05},
    {"id":"bg19","gen":90,"freq":0.02},{"id":"bg19","gen":180,"freq":0.05},{"id":"bg19","gen":270,"freq":0.1},{"id":"bg19","gen":360,"freq":0.15},{"id":"bg19","gen":450,"freq":0.1},{"id":"bg19","gen":540,"freq":0.15},{"id":"bg19","gen":630,"freq":0.22},{"id":"bg19","gen":720,"freq":0.3},{"id":"bg19","gen":810,"freq":0.2},{"id":"bg19","gen":900,"freq":0.1},{"id":"bg19","gen":990,"freq":0.05},
    {"id":"bg20","gen":450,"freq":0.05},{"id":"bg20","gen":540,"freq":0.2},{"id":"bg20","gen":630,"freq":0.15},{"id":"bg20","gen":720,"freq":0.25},{"id":"bg20","gen":810,"freq":0.4},{"id":"bg20","gen":900,"freq":0.45},{"id":"bg20","gen":990,"freq":0.38},
    {"id":"bg21","gen":630,"freq":0.05},{"id":"bg21","gen":720,"freq":0.12},{"id":"bg21","gen":810,"freq":0.25},{"id":"bg21","gen":900,"freq":0.3},{"id":"bg21","gen":990,"freq":0.2},
    {"id":"bg22","gen":720,"freq":0.05},{"id":"bg22","gen":810,"freq":0.3},{"id":"bg22","gen":900,"freq":0.55},{"id":"bg22","gen":990,"freq":0.7},
    {"id":"bg23","gen":0,"freq":0},{"id":"bg23","gen":90,"freq":0.05},{"id":"bg23","gen":180,"freq":0.15},{"id":"bg23","gen":270,"freq":0.2},{"id":"bg23","gen":360,"freq":0.25},{"id":"bg23","gen":450,"freq":0.3},{"id":"bg23","gen":540,"freq":0.35},{"id":"bg23","gen":630,"freq":0.38},{"id":"bg23","gen":720,"freq":0.42},{"id":"bg23","gen":810,"freq":0.4},
    {"id":"bg24","gen":540,"freq":0.3},{"id":"bg24","gen":630,"freq":0.7},{"id":"bg24","gen":720,"freq":0.75},{"id":"bg24","gen":810,"freq":0.72},{"id":"bg24","gen":900,"freq":0.7},{"id":"bg24","gen":990,"freq":0.68},
    {"id":"bg25","gen":360,"freq":0.1},{"id":"bg25","gen":450,"freq":0.4},{"id":"bg25","gen":540,"freq":0.85},{"id":"bg25","gen":630,"freq":0.88},{"id":"bg25","gen":720,"freq":0.85},{"id":"bg25","gen":810,"freq":0.8},{"id":"bg25","gen":900,"freq":0.78},{"id":"bg25","gen":990,"freq":0.75},
    {"id":"bg26","gen":90,"freq":0},{"id":"bg26","gen":180,"freq":0.02},{"id":"bg26","gen":270,"freq":0.05},{"id":"bg26","gen":360,"freq":0.08},{"id":"bg26","gen":450,"freq":0.05},{"id":"bg26","gen":540,"freq":0.1},{"id":"bg26","gen":630,"freq":0.05},{"id":"bg26","gen":720,"freq":0.08},{"id":"bg26","gen":810,"freq":0.05},{"id":"bg26","gen":900,"freq":0.03},{"id":"bg26","gen":990,"freq":0.02}
  ],
  "labels": [
    {"panel":"a","text":"1","gen":228,"freq":0.835,"effect":"beneficial"},
    {"panel":"a","text":"2","gen":220,"freq":0.455,"effect":"beneficial"},
    {"panel":"a","text":"3","gen":158,"freq":0.777,"effect":"deleterious"},
    {"panel":"a","text":"4","gen":301,"freq":0.61,"effect":"deleterious"},
    {"panel":"a","text":"5","gen":293,"freq":0.52,"effect":"beneficial"},
    {"panel":"a","text":"6","gen":285,"freq":0.42,"effect":"beneficial"},
    {"panel":"a","text":"7","gen":358,"freq":0.58,"effect":"beneficial"},
    {"panel":"a","text":"8","gen":350,"freq":0.48,"effect":"beneficial"},
    {"panel":"a","text":"9","gen":472,"freq":0.6,"effect":"beneficial"},
    {"panel":"a","text":"10","gen":740,"freq":0.777,"effect":"beneficial"},
    {"panel":"a","text":"11","gen":717,"freq":0.6875,"effect":"deleterious"},
    {"panel":"a","text":"12","gen":701,"freq":0.58,"effect":"deleterious"},
    {"panel":"a","text":"13","gen":820,"freq":0.73,"effect":"deleterious"},
    {"panel":"a","text":"14","gen":798,"freq":0.634,"effect":"beneficial"},
    {"panel":"a","text":"15","gen":919,"freq":0.53,"effect":"beneficial"},
    {"panel":"a","text":"16","gen":769,"freq":0.13,"effect":"deleterious"},
    {"panel":"b","text":"17","gen":307,"freq":0.78,"effect":"deleterious"},
    {"panel":"b","text":"18","gen":291,"freq":0.68,"effect":"deleterious"},
    {"panel":"b","text":"19","gen":398,"freq":0.924,"effect":"beneficial"},
    {"panel":"b","text":"20","gen":379,"freq":0.38,"effect":"deleterious"},
    {"panel":"b","text":"21","gen":439,"freq":0.826,"effect":"beneficial"},
    {"panel":"b","text":"22","gen":541,"freq":0.78,"effect":"beneficial"},
    {"panel":"b","text":"23","gen":658,"freq":0.683,"effect":"beneficial"},
    {"panel":"b","text":"24","gen":818,"freq":0.482,"effect":"beneficial"}
  ],
  "sel": [
    {"num":1,"label":"1. ade3 (VII)","s":7.9,"lo":6.3,"hi":9.5,"effect":"beneficial","population":"asexual"},
    {"num":2,"label":"2. ahp1 (XII)","s":0.75,"lo":0.37,"hi":1.13,"effect":"beneficial","population":"asexual"},
    {"num":3,"label":"3. grs2* (XVI)","s":-2.85,"lo":-3.05,"hi":-2.65,"effect":"deleterious","population":"asexual"},
    {"num":4,"label":"4. acs1 (I)","s":-0.78,"lo":-1.12,"hi":-0.42,"effect":"deleterious","population":"asexual"},
    {"num":5,"label":"5. sda1 (VII)","s":1.57,"lo":1.1,"hi":2.03,"effect":"beneficial","population":"asexual"},
    {"num":6,"label":"6. yak1 (X)","s":5.77,"lo":4.95,"hi":6.63,"effect":"beneficial","population":"asexual"},
    {"num":7,"label":"7. yur1 (X)","s":4.73,"lo":4.12,"hi":5.33,"effect":"beneficial","population":"asexual"},
    {"num":8,"label":"8. zap1 (X)","s":1.34,"lo":0.94,"hi":1.73,"effect":"beneficial","population":"asexual"},
    {"num":9,"label":"9. sun4 (XIV)","s":1.2,"lo":0.84,"hi":1.6,"effect":"beneficial","population":"asexual"},
    {"num":10,"label":"10. toh1 (X)","s":3.91,"lo":3.43,"hi":4.41,"effect":"beneficial","population":"asexual"},
    {"num":11,"label":"11. aro2 (VII)","s":-0.96,"lo":-1.31,"hi":-0.58,"effect":"deleterious","population":"asexual"},
    {"num":12,"label":"12. met2* (XIV)","s":-2.5,"lo":-2.7,"hi":-2.3,"effect":"deleterious","population":"asexual"},
    {"num":13,"label":"13. rgt1* (XI)","s":-1.5,"lo":-1.7,"hi":-1.3,"effect":"deleterious","population":"asexual"},
    {"num":14,"label":"14. cys4 (VII)","s":1.07,"lo":0.64,"hi":1.53,"effect":"beneficial","population":"asexual"},
    {"num":15,"label":"15. Intergenic (VII)","s":2.03,"lo":1.27,"hi":2.8,"effect":"beneficial","population":"asexual"},
    {"num":16,"label":"16. Intergenic (IX)","s":-1.29,"lo":-1.67,"hi":-0.91,"effect":"deleterious","population":"asexual"},
    {"num":17,"label":"17. hul5* (VII)","s":-2.56,"lo":-2.76,"hi":-2.36,"effect":"deleterious","population":"sexual"},
    {"num":18,"label":"18. grs2* (XVI)","s":-2.86,"lo":-3.06,"hi":-2.66,"effect":"deleterious","population":"sexual"},
    {"num":19,"label":"19. kre5 (XV)","s":3.25,"lo":2.72,"hi":3.76,"effect":"beneficial","population":"sexual"},
    {"num":20,"label":"20. rgt1* (XI)","s":-3.6,"lo":-3.8,"hi":-3.4,"effect":"deleterious","population":"sexual"},
    {"num":21,"label":"21. toh1* (X)","s":5.03,"lo":4.85,"hi":5.2,"effect":"beneficial","population":"sexual"},
    {"num":22,"label":"22. Intergenic (IX)","s":1.04,"lo":0.54,"hi":1.53,"effect":"beneficial","population":"sexual"},
    {"num":23,"label":"23. met2* (XIV)","s":2.05,"lo":1.85,"hi":2.24,"effect":"beneficial","population":"sexual"},
    {"num":24,"label":"24. snf2 (XV)","s":1.82,"lo":1.45,"hi":2.18,"effect":"beneficial","population":"sexual"}
  ]
},
"spacing": 16,
"hconcat": [
  {
    "spacing": 10,
    "vconcat": [
      {
        "width": 610, "height": 224,
        "title": {"text": "Asexual"},
        "data": {"name": "traj"},
        "transform": [
          {"lookup": "id", "from": {"data": {"name": "lineages"}, "key": "id", "fields": ["panel", "effect", "site"]}},
          {"filter": "datum.panel === 'a'"}
        ],
        "encoding": {
          "x": {"field": "gen", "type": "quantitative", "scale": {"domain": [0, 990], "nice": false}, "axis": {"values": [0, 200, 400, 600, 800], "labels": false, "title": null}},
          "y": {"field": "freq", "type": "quantitative", "scale": {"domain": [0, 1], "nice": false}, "axis": {"values": [0, 0.5, 1], "format": ".1f", "title": "Frequency"}}
        },
        "layer": [
          {"transform": [{"filter": "datum.effect === 'none'"}], "mark": {"type": "line", "strokeWidth": 1.2, "opacity": 0.85},
           "encoding": {"detail": {"field": "id"},
             "color": {"field": "effect", "type": "nominal", "scale": {"domain": ["beneficial", "deleterious", "none"], "range": ["#D99B2B", "#3A6BB1", "#CDCDCD"]}, "legend": null},
             "strokeDash": {"field": "site", "type": "nominal", "scale": {"domain": ["coding", "intergenic", "other"], "range": [[1, 0], [5, 4], [12, 8]]}, "legend": null}}},
          {"transform": [{"filter": "datum.effect !== 'none'"}], "mark": {"type": "line", "strokeWidth": 1.6},
           "encoding": {"detail": {"field": "id"},
             "color": {"field": "effect", "type": "nominal", "scale": {"domain": ["beneficial", "deleterious", "none"], "range": ["#D99B2B", "#3A6BB1", "#CDCDCD"]}, "legend": null},
             "strokeDash": {"field": "site", "type": "nominal", "scale": {"domain": ["coding", "intergenic", "other"], "range": [[1, 0], [5, 4], [12, 8]]}, "legend": null}}},
          {"data": {"name": "labels"}, "transform": [{"filter": "datum.panel === 'a'"}], "mark": {"type": "text", "fontSize": 19, "baseline": "middle", "align": "center"},
           "encoding": {"text": {"field": "text"}, "color": {"field": "effect", "type": "nominal", "scale": {"domain": ["beneficial", "deleterious", "none"], "range": ["#D99B2B", "#3A6BB1", "#CDCDCD"]}, "legend": null}}},
          {"data": {"values": [{"letter": "a"}]}, "mark": {"type": "text", "fontSize": 21, "fontWeight": "bold", "color": "#111", "baseline": "middle", "align": "center"},
           "encoding": {"text": {"field": "letter"}, "x": {"datum": 28}, "y": {"datum": 0.91}}}
        ]
      },
      {
        "width": 610, "height": 224,
        "title": {"text": "Sexual"},
        "data": {"name": "traj"},
        "transform": [
          {"lookup": "id", "from": {"data": {"name": "lineages"}, "key": "id", "fields": ["panel", "effect", "site"]}},
          {"filter": "datum.panel === 'b'"}
        ],
        "encoding": {
          "x": {"field": "gen", "type": "quantitative", "scale": {"domain": [0, 990], "nice": false}, "axis": {"values": [0, 200, 400, 600, 800], "title": "Generation"}},
          "y": {"field": "freq", "type": "quantitative", "scale": {"domain": [0, 1], "nice": false}, "axis": {"values": [0, 0.5, 1], "format": ".1f", "title": "Frequency"}}
        },
        "layer": [
          {"transform": [{"filter": "datum.effect === 'none'"}], "mark": {"type": "line", "strokeWidth": 1.2, "opacity": 0.85},
           "encoding": {"detail": {"field": "id"},
             "color": {"field": "effect", "type": "nominal", "scale": {"domain": ["beneficial", "deleterious", "none"], "range": ["#D99B2B", "#3A6BB1", "#CDCDCD"]}, "legend": null},
             "strokeDash": {"field": "site", "type": "nominal", "scale": {"domain": ["coding", "intergenic", "other"], "range": [[1, 0], [5, 4], [12, 8]]}, "legend": null}}},
          {"transform": [{"filter": "datum.effect !== 'none'"}], "mark": {"type": "line", "strokeWidth": 1.6},
           "encoding": {"detail": {"field": "id"},
             "color": {"field": "effect", "type": "nominal", "scale": {"domain": ["beneficial", "deleterious", "none"], "range": ["#D99B2B", "#3A6BB1", "#CDCDCD"]}, "legend": null},
             "strokeDash": {"field": "site", "type": "nominal", "scale": {"domain": ["coding", "intergenic", "other"], "range": [[1, 0], [5, 4], [12, 8]]}, "legend": null}}},
          {"data": {"name": "labels"}, "transform": [{"filter": "datum.panel === 'b'"}], "mark": {"type": "text", "fontSize": 19, "baseline": "middle", "align": "center"},
           "encoding": {"text": {"field": "text"}, "color": {"field": "effect", "type": "nominal", "scale": {"domain": ["beneficial", "deleterious", "none"], "range": ["#D99B2B", "#3A6BB1", "#CDCDCD"]}, "legend": null}}},
          {"data": {"values": [{"letter": "b"}]}, "mark": {"type": "text", "fontSize": 21, "fontWeight": "bold", "color": "#111", "baseline": "middle", "align": "center"},
           "encoding": {"text": {"field": "letter"}, "x": {"datum": 28}, "y": {"datum": 0.91}}}
        ]
      }
    ]
  },
  {
    "spacing": 0,
    "vconcat": [
      {
        "width": 304, "height": 331,
        "title": {"text": " "},
        "data": {"name": "sel"},
        "transform": [{"filter": "datum.population === 'asexual'"}],
        "encoding": {
          "x": {"field": "s", "type": "quantitative", "scale": {"domain": [-5, 10], "nice": false, "zero": false}, "axis": {"ticks": false, "labels": false, "title": null}}
        },
        "layer": [
          {"data": {"values": [{"ref": 0}]}, "mark": {"type": "rule", "color": "#333", "strokeWidth": 1.5}, "encoding": {"x": {"field": "ref", "type": "quantitative"}}},
          {"mark": {"type": "rule", "strokeWidth": 1.5},
           "encoding": {"x": {"field": "lo", "type": "quantitative"}, "x2": {"field": "hi"},
             "y": {"field": "label", "type": "nominal", "sort": null, "scale": {"type": "point", "padding": 0.8}, "axis": {"orient": "right", "domain": false, "ticks": false, "title": null, "labelFontSize": 17, "labelPadding": 0, "labelAlign": "left", "labelColor": "#222"}},
             "color": {"field": "effect", "type": "nominal", "scale": {"domain": ["beneficial", "deleterious", "none"], "range": ["#D99B2B", "#3A6BB1", "#CDCDCD"]}, "legend": null}}},
          {"mark": {"type": "tick", "orient": "vertical", "size": 13, "thickness": 1.5},
           "encoding": {"x": {"field": "lo", "type": "quantitative"}, "y": {"field": "label", "type": "nominal", "sort": null},
             "color": {"field": "effect", "type": "nominal", "legend": null}}},
          {"mark": {"type": "tick", "orient": "vertical", "size": 13, "thickness": 1.5},
           "encoding": {"x": {"field": "hi", "type": "quantitative"}, "y": {"field": "label", "type": "nominal", "sort": null},
             "color": {"field": "effect", "type": "nominal", "legend": null}}},
          {"mark": {"type": "circle", "size": 75, "opacity": 1},
           "encoding": {"y": {"field": "label", "type": "nominal", "sort": null},
             "color": {"field": "effect", "type": "nominal", "legend": null}}},
          {"transform": [{"filter": "datum.num === 1"}], "mark": {"type": "text", "text": "c", "fontSize": 21, "fontWeight": "bold", "color": "#111", "baseline": "middle", "align": "center", "dy": 4},
           "encoding": {"x": {"datum": -4}, "y": {"field": "label", "type": "nominal", "sort": null}}}
        ]
      },
      {
        "width": 304, "height": 169,
        "data": {"name": "sel"},
        "transform": [{"filter": "datum.population === 'sexual'"}],
        "encoding": {
          "x": {"field": "s", "type": "quantitative", "scale": {"domain": [-5, 10], "nice": false, "zero": false}, "axis": {"values": [-4, 0, 4, 8], "title": "Selection coefficient (%)"}}
        },
        "layer": [
          {"data": {"values": [{"ref": 0}]}, "mark": {"type": "rule", "color": "#333", "strokeWidth": 1.5}, "encoding": {"x": {"field": "ref", "type": "quantitative"}}},
          {"mark": {"type": "rule", "strokeWidth": 1.5},
           "encoding": {"x": {"field": "lo", "type": "quantitative"}, "x2": {"field": "hi"},
             "y": {"field": "label", "type": "nominal", "sort": null, "scale": {"type": "point", "padding": 0.725}, "axis": {"orient": "right", "domain": false, "ticks": false, "title": null, "labelFontSize": 17, "labelPadding": 0, "labelAlign": "left", "labelColor": "#222"}},
             "color": {"field": "effect", "type": "nominal", "scale": {"domain": ["beneficial", "deleterious", "none"], "range": ["#D99B2B", "#3A6BB1", "#CDCDCD"]}, "legend": null}}},
          {"mark": {"type": "tick", "orient": "vertical", "size": 13, "thickness": 1.5},
           "encoding": {"x": {"field": "lo", "type": "quantitative"}, "y": {"field": "label", "type": "nominal", "sort": null},
             "color": {"field": "effect", "type": "nominal", "legend": null}}},
          {"mark": {"type": "tick", "orient": "vertical", "size": 13, "thickness": 1.5},
           "encoding": {"x": {"field": "hi", "type": "quantitative"}, "y": {"field": "label", "type": "nominal", "sort": null},
             "color": {"field": "effect", "type": "nominal", "legend": null}}},
          {"mark": {"type": "circle", "size": 75, "opacity": 1},
           "encoding": {"y": {"field": "label", "type": "nominal", "sort": null},
             "color": {"field": "effect", "type": "nominal", "legend": null}}}
        ]
      }
    ]
  }
]
}
